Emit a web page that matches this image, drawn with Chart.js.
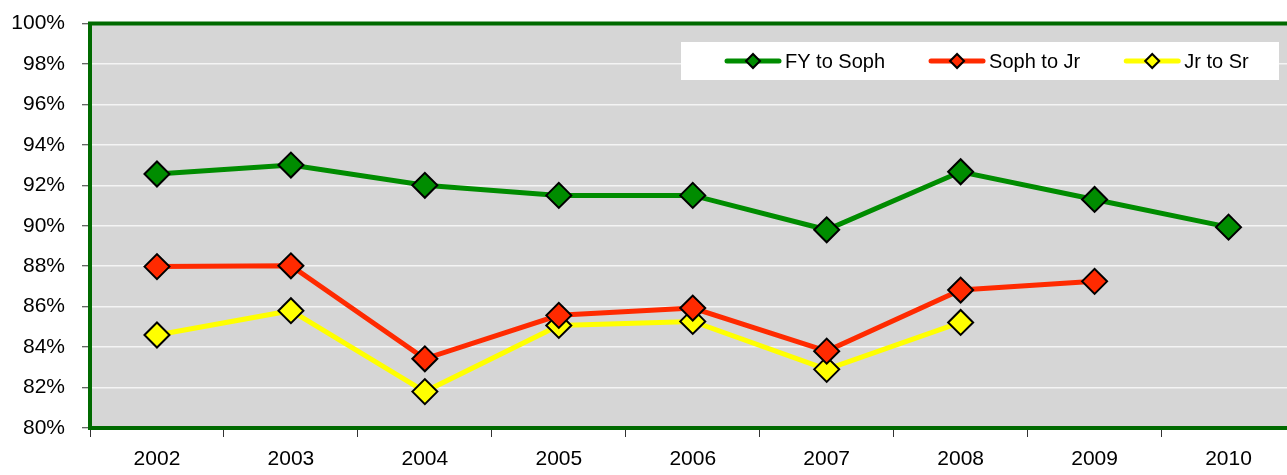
<!DOCTYPE html>
<html>
<head>
<meta charset="utf-8">
<script src="https://cdn.jsdelivr.net/npm/chart.js@4/dist/chart.umd.min.js"></script>
<style>
  html, body { margin: 0; padding: 0; background: #fff; overflow: hidden; }
  #wrap { width: 1310px; height: 475px; }
</style>
</head>
<body>
<div id="wrap"><canvas id="myChart" width="1310" height="475"></canvas></div>
<script>
const years = ['2002', '2003', '2004', '2005', '2006', '2007', '2008', '2009', '2010'];
const fyToSoph = [92.56, 93.0, 92.0, 91.5, 91.5, 89.8, 92.67, 91.3, 89.93];
const sophToJr = [87.98, 88.02, 83.42, 85.57, 85.93, 83.8, 86.82, 87.25, null];
const jrToSr = [84.6, 85.8, 81.8, 85.07, 85.27, 82.9, 85.22, null, null];
const seriesNames = ['FY to Soph', 'Soph to Jr', 'Jr to Sr'];
const seriesColors = ['#008c00', '#ff2a00', '#ffff00'];

const FONT = "'Liberation Sans', Arial, sans-serif";

function makeSet(i, values) {
  return {
    label: seriesNames[i],
    data: values,
    borderColor: seriesColors[i],
    backgroundColor: seriesColors[i],
    borderWidth: 5,
    pointStyle: 'rectRot',
    pointRadius: 12.5,
    pointHoverRadius: 12.5,
    pointBackgroundColor: seriesColors[i],
    pointBorderColor: '#000',
    pointBorderWidth: 2,
    tension: 0,
    spanGaps: false
  };
}

// grey plot area, green frame and the white legend box
const plotDecor = {
  id: 'plotDecor',
  beforeDraw(chart) {
    const { ctx, chartArea: a } = chart;
    ctx.save();
    ctx.fillStyle = '#d6d6d6';
    ctx.fillRect(a.left, a.top, a.right - a.left, a.bottom - a.top);
    ctx.restore();
  },
  beforeDatasetsDraw(chart) {
    const { ctx, chartArea: a } = chart;
    ctx.save();
    ctx.strokeStyle = '#006a00';
    ctx.lineWidth = 4;
    ctx.strokeRect(a.left, a.top, a.right - a.left, a.bottom - a.top);

    // legend
    ctx.fillStyle = '#fff';
    ctx.fillRect(681, 42, 598, 38);
    ctx.font = '20px ' + FONT;
    ctx.textBaseline = 'middle';
    let x = 725;
    const y = 61;
    chart.data.datasets.forEach(ds => {
      ctx.strokeStyle = ds.borderColor;
      ctx.lineWidth = 5;
      ctx.lineCap = 'round';
      ctx.beginPath();
      ctx.moveTo(x + 2, y);
      ctx.lineTo(x + 54, y);
      ctx.stroke();
      const r = 7;
      const cx = x + 28;
      ctx.beginPath();
      ctx.moveTo(cx - r, y);
      ctx.lineTo(cx, y - r);
      ctx.lineTo(cx + r, y);
      ctx.lineTo(cx, y + r);
      ctx.closePath();
      ctx.fillStyle = ds.pointBackgroundColor;
      ctx.fill();
      ctx.lineWidth = 2;
      ctx.strokeStyle = '#000';
      ctx.stroke();
      ctx.fillStyle = '#000';
      ctx.fillText(ds.label, x + 60, y + 1);
      x += 60 + ctx.measureText(ds.label).width + 44;
    });
    ctx.restore();
  }
};

const config = {
  type: 'line',
  data: {
    labels: years,
    datasets: [makeSet(0, fyToSoph), makeSet(1, sophToJr), makeSet(2, jrToSr)]
  },
  options: {
    responsive: false,
    animation: false,
    layout: { padding: { top: 23.5, left: 0, right: 0, bottom: 0 } },
    plugins: {
      legend: { display: false },
      tooltip: { enabled: false }
    },
    scales: {
      x: {
        offset: true,
        grid: {
          offset: true,
          drawOnChartArea: false,
          drawTicks: true,
          tickLength: 9,
          tickColor: '#333',
          tickWidth: 1
        },
        border: { display: false },
        ticks: {
          color: '#000',
          padding: 10,
          font: { family: FONT, size: 21 }
        },
        afterFit(scale) {
          scale.height = 47;
          scale.paddingLeft = 0;
          scale.paddingRight = 0;
        }
      },
      y: {
        min: 80,
        max: 100,
        grid: {
          color: '#f4f4f4',
          lineWidth: 1.5,
          tickLength: 8,
          tickColor: '#333',
          tickWidth: 1
        },
        border: { display: false },
        ticks: {
          stepSize: 2,
          color: '#000',
          padding: 17,
          font: { family: FONT, size: 21 },
          callback: v => v + '%'
        },
        afterFit(scale) {
          scale.width = 90;
          scale.paddingTop = 0;
          scale.paddingBottom = 0;
        }
      }
    }
  },
  plugins: [plotDecor]
};

let myChart = new Chart(document.getElementById('myChart'), config);
</script>
</body>
</html>
